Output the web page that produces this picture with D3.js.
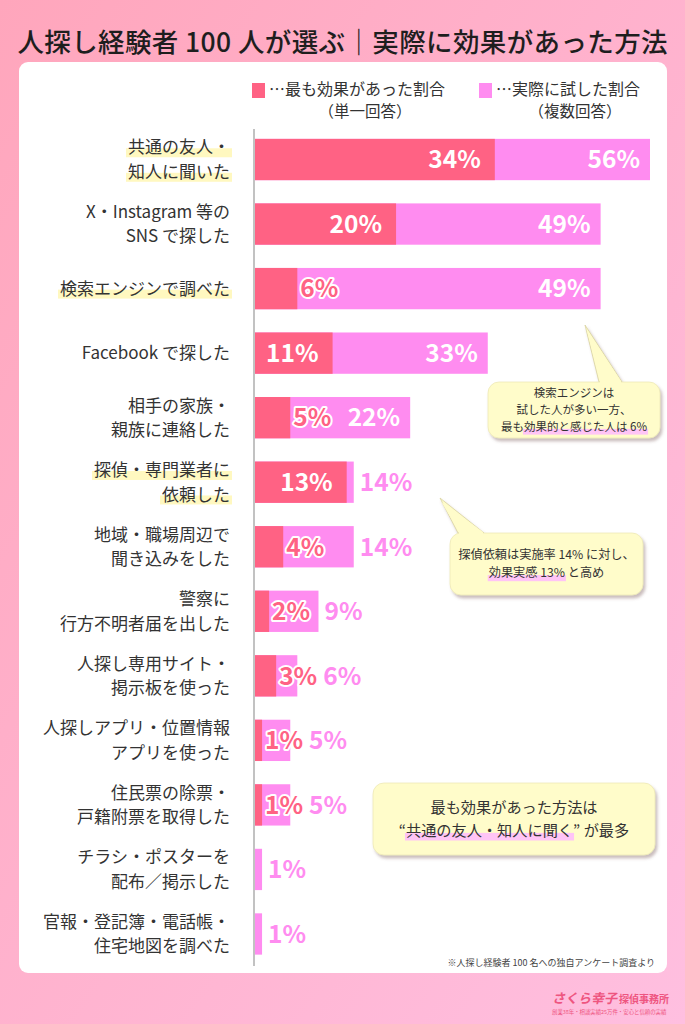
<!DOCTYPE html>
<html><head><meta charset="utf-8">
<script src="https://cdn.jsdelivr.net/npm/d3@7"></script>
<style>
html,body{margin:0;padding:0;background:#ffb0c8;}
svg{display:block;font-family:"Noto Sans CJK JP","Noto Sans",sans-serif;}
</style></head>
<body>
<svg id="chart" width="685" height="1024"></svg>
<script>
const title = "人探し経験者 100 人が選ぶ｜実際に効果があった方法";
const categories = [
  "共通の友人・\n知人に聞いた",
  "X・Instagram 等の\nSNS で探した",
  "検索エンジンで調べた",
  "Facebook で探した",
  "相手の家族・\n親族に連絡した",
  "探偵・専門業者に\n依頼した",
  "地域・職場周辺で\n聞き込みをした",
  "警察に\n行方不明者届を出した",
  "人探し専用サイト・\n掲示板を使った",
  "人探しアプリ・位置情報\nアプリを使った",
  "住民票の除票・\n戸籍附票を取得した",
  "チラシ・ポスターを\n配布／掲示した",
  "官報・登記簿・電話帳・\n住宅地図を調べた"
];
const mostEffective = [34, 20, 6, 11, 5, 13, 4, 2, 3, 1, 1, 0, 0];
const triedShare    = [56, 49, 49, 33, 22, 14, 14, 9, 6, 5, 5, 1, 1];
const highlightedCategories = ["共通の友人・\n知人に聞いた", "検索エンジンで調べた", "探偵・専門業者に\n依頼した"];
const seriesNames = ["…最も効果があった割合", "…実際に試した割合"];
const seriesNotes = ["（単一回答）", "（複数回答）"];
const callouts = [
  {lines: ["検索エンジンは", "試した人が多い一方、", "最も効果的と感じた人は 6%"], hl: [2, "効果的と感じた人は 6%"]},
  {lines: ["探偵依頼は実施率 14% に対し、", "効果実感 13% と高め"], hl: [1, "効果実感 13%"]},
  {lines: ["最も効果があった方法は", "“共通の友人・知人に聞く” が最多"], hl: [1, "共通の友人・知人に聞く"]}
];
const footnote = "※人探し経験者 100 名への独自アンケート調査より";
const logoMain = "さくら幸子";
const logoSub = "探偵事務所";
const logoTag = "創業38年・相談実績25万件・安心と信頼の実績";

const RED = "#ff6284", PINK = "#ff8cf0";
const svg = d3.select("#chart");
const defs = svg.append("defs");
const g = defs.append("linearGradient").attr("id","bg").attr("x1",0).attr("y1",0).attr("x2",1).attr("y2",1);
g.append("stop").attr("offset","0%").attr("stop-color","#ffa6bc");
g.append("stop").attr("offset","100%").attr("stop-color","#ffbfe0");
const f = defs.append("filter").attr("id","sh").attr("x","-10%").attr("y","-20%").attr("width","130%").attr("height","150%");
f.append("feDropShadow").attr("dx",2).attr("dy",3).attr("stdDeviation",1.5).attr("flood-color","#8a7070").attr("flood-opacity",0.45);

svg.append("rect").attr("width",685).attr("height",1024).attr("fill","url(#bg)");
svg.append("text").attr("x",342.5).attr("y",52).attr("text-anchor","middle")
  .attr("font-size",26.5).attr("font-weight",500).attr("fill","#1e1e1e")
  .attr("textLength",650).attr("lengthAdjust","spacing").text(title);
svg.append("rect").attr("x",19).attr("y",62).attr("width",648).attr("height",911).attr("rx",9).attr("fill","#fff");

// legend
const legX = [252, 479], legNoteX = [365, 575], legCol = [RED, PINK];
legX.forEach((lx,i)=>{
  svg.append("rect").attr("x",lx).attr("y",83).attr("width",13).attr("height",15).attr("fill",legCol[i]);
  svg.append("text").attr("x",lx+17).attr("y",95).attr("font-size",16).attr("fill","#333").text(seriesNames[i]);
  svg.append("text").attr("x",legNoteX[i]).attr("y",117).attr("text-anchor","middle").attr("font-size",15.5).attr("fill","#333").text(seriesNotes[i]);
});

const x0 = 255;
const x = d3.scaleLinear().domain([0,56]).range([0,395]);
const y = d3.scaleBand().domain(categories).range([127.25,966.25]).paddingInner(0.36).paddingOuter(0.18);

// axis line
svg.append("line").attr("x1",254).attr("x2",254).attr("y1",129).attr("y2",966).attr("stroke","#b3b3b3").attr("stroke-width",1.6);

// category labels
const labG = svg.append("g");
categories.forEach((c)=>{
  const lines = c.split("\n");
  const cy = y(c) + y.bandwidth()/2;
  const hl = highlightedCategories.includes(c);
  lines.forEach((ln,j)=>{
    const ly = cy + (j - (lines.length-1)/2)*24.5;
    const t = labG.append("text").attr("x",230).attr("y",ly).attr("dy","0.36em").attr("text-anchor","end")
      .attr("font-size",17).attr("fill","#333").text(ln);
    if (hl) {
      const w = t.node().getComputedTextLength();
      labG.insert("rect","text").attr("x",230-w-2).attr("y",ly+1).attr("width",w+4).attr("height",9).attr("fill","#fff8c0");
    }
  });
});

// bars
const barG = svg.append("g");
barG.selectAll(".pink").data(categories).join("rect")
  .attr("x",x0).attr("y",d=>y(d)).attr("height",y.bandwidth())
  .attr("width",(d,i)=>x(triedShare[i])).attr("fill",PINK);
barG.selectAll(".red").data(categories).join("rect")
  .attr("x",x0).attr("y",d=>y(d)).attr("height",y.bandwidth())
  .attr("width",(d,i)=>x(mostEffective[i])).attr("fill",RED);

// value labels
const valG = svg.append("g").attr("font-size",24.5).attr("font-weight",700);
categories.forEach((c,i)=>{
  const cy = y(c) + y.bandwidth()/2;
  const r = mostEffective[i], p = triedShare[i];
  let occupied = x0 + x(r);
  if (r > 0) {
    if (r >= 10) {
      valG.append("text").attr("x",x0+x(r)-14).attr("y",cy).attr("dy","0.36em").attr("text-anchor","end")
        .attr("fill","#fff").text(r+"%");
    } else {
      const t = valG.append("text").attr("x",x0+x(r)+3).attr("y",cy).attr("dy","0.36em")
        .attr("fill",RED).attr("stroke","#fff").attr("stroke-width",4).attr("stroke-linejoin","round")
        .attr("paint-order","stroke").text(r+"%");
      occupied = x0 + x(r) + 3 + t.node().getComputedTextLength();
    }
  }
  if (p >= 20) {
    valG.append("text").attr("x",x0+x(p)-10).attr("y",cy).attr("dy","0.36em").attr("text-anchor","end")
      .attr("fill","#fff").text(p+"%");
  } else {
    const sx = Math.max(x0 + x(p), occupied) + 6;
    valG.append("text").attr("x",sx).attr("y",cy).attr("dy","0.36em")
      .attr("fill",PINK).text(p+"%");
  }
});

// callouts
const boxes = [
  {x:488, y:382, w:172, h:56, fs:11.5, lh:16.8, tail:[[585,325],[599,382],[622,382]]},
  {x:450, y:533, w:193, h:62, fs:12.2, lh:17.8, tail:[[440,498],[458,533],[484,533]]},
  {x:373, y:783, w:282, h:72, fs:15.2, lh:22.3, tail:null}
];
callouts.forEach((co,i)=>{
  const b = boxes[i];
  const cg = svg.append("g");
  const sg = cg.append("g").attr("filter","url(#sh)");
  if (b.tail) {
    sg.append("path").attr("d", d3.line()(b.tail) + "Z").attr("fill","#fffcca").attr("stroke","#d8d2a0").attr("stroke-width",0.8);
  }
  sg.append("rect").attr("x",b.x).attr("y",b.y).attr("width",b.w).attr("height",b.h).attr("rx",11)
    .attr("fill","#fffcca").attr("stroke","#eee8b8").attr("stroke-width",0.8);
  if (b.tail) {
    cg.append("path").attr("d", d3.line()([[b.tail[1][0]+1,b.tail[1][1]+2],[b.tail[1][0]+1,b.tail[1][1]-1],[b.tail[0][0]+1.5,b.tail[0][1]+4],[b.tail[2][0]-1,b.tail[2][1]-1],[b.tail[2][0]-1,b.tail[2][1]+2]]) + "Z").attr("fill","#fffcca");
  }
  const cx = b.x + b.w/2, cyc = b.y + b.h/2;
  co.lines.forEach((ln,j)=>{
    const ly = cyc + (j - (co.lines.length-1)/2)*b.lh;
    const t = cg.append("text").attr("x",cx).attr("y",ly).attr("dy","0.36em").attr("text-anchor","middle")
      .attr("font-size",b.fs).attr("fill","#333").text(ln);
    if (co.hl[0] === j) {
      const node = t.node();
      const total = node.getComputedTextLength();
      const idx = ln.indexOf(co.hl[1]);
      const pre = idx > 0 ? node.getSubStringLength(0, idx) : 0;
      const w = node.getSubStringLength(idx, co.hl[1].length);
      cg.insert("rect","text").attr("x",cx-total/2+pre-1).attr("y",ly+b.fs*0.18).attr("width",w+2).attr("height",b.fs*0.5).attr("fill","#ffc4f6");
    }
  });
});

// footnote
svg.append("text").attr("x",655).attr("y",966).attr("text-anchor","end").attr("font-size",9).attr("fill","#444").text(footnote);

// logo
const logo = svg.append("text").attr("x",552).attr("y",1003).attr("fill","#ee5580").attr("font-weight",700);
logo.append("tspan").attr("font-size",13).attr("font-style","italic").text(logoMain);
logo.append("tspan").attr("font-size",10).attr("dx",2).text(logoSub);
svg.append("text").attr("x",552).attr("y",1014).attr("font-size",5.4).attr("fill","#ee5580").text(logoTag);
</script>
</body></html>
